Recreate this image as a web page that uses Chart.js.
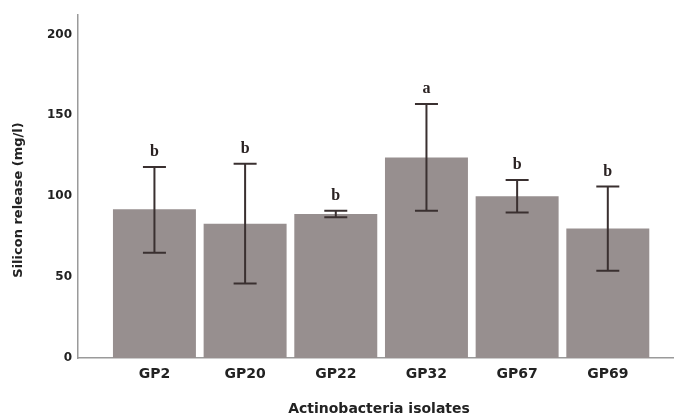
<!DOCTYPE html>
<html>
<head>
<meta charset="utf-8">
<script src="https://cdn.jsdelivr.net/npm/chart.js@4/dist/chart.umd.min.js"></script>
<style>
html,body{margin:0;padding:0;background:#fff}
#wrap{width:674px;height:416px}
</style>
</head>
<body>
<div id="wrap"><canvas id="siChart" width="674" height="416"></canvas></div>
<script>

// isolates and mean silicon release (mg/l)
const isolates=["GP2","GP20","GP22","GP32","GP67","GP69"]
const meanRelease=[92,83,89,124,100,80]
const errHigh=[118,120,91,157,110,106]
const errLow=[65,46,87,91,90,54]
const groupLetters=["b","b","b","a","b","b"]
const yTicks=[0,50,100,150,200]
const yTitle="Silicon release (mg/l)"
const xTitle="Actinobacteria isolates"

// error bars, significance letters and the axis titles
const errorBars={
id:"errorBars",
afterDatasetsDraw(chart){
const ctx=chart.ctx
const xs=chart.scales.x
const ys=chart.scales.y
ctx.save()
ctx.strokeStyle="#3a3030"
ctx.lineWidth=2
ctx.fillStyle="#2a2222"
ctx.font="bold 16px 'Liberation Serif'"
ctx.textAlign="center"
ctx.textBaseline="alphabetic"
isolates.forEach((name,i)=>{
const x=xs.getPixelForValue(i)
const yh=ys.getPixelForValue(errHigh[i])
const yl=ys.getPixelForValue(errLow[i])
ctx.beginPath()
ctx.moveTo(x,yh)
ctx.lineTo(x,yl)
ctx.moveTo(x-11.5,yh)
ctx.lineTo(x+11.5,yh)
ctx.moveTo(x-11.5,yl)
ctx.lineTo(x+11.5,yl)
ctx.stroke()
ctx.fillText(groupLetters[i],x,yh-11)
})
ctx.restore()

ctx.save()
ctx.fillStyle="#222"
ctx.textAlign="center"
ctx.textBaseline="middle"
ctx.font="bold 14px 'DejaVu Sans'"
ctx.fillText(xTitle,(chart.chartArea.left+chart.chartArea.right)/2+3,409)
ctx.translate(19,200)
ctx.rotate(-Math.PI/2)
ctx.font="bold 13px 'DejaVu Sans'"
ctx.fillText(yTitle,0,0)
ctx.restore()
}
}

const points=isolates.map((n,i)=>({x:i,y:meanRelease[i]}))

new Chart(document.getElementById("siChart"),{
type:"bar",
data:{
datasets:[{
data:points,
backgroundColor:"#978f8f",
borderWidth:0,
barPercentage:0.915,
categoryPercentage:1
}]
},
options:{
responsive:false,
animation:false,
layout:{padding:{top:15,right:0,left:0,bottom:0}},
plugins:{legend:{display:false},tooltip:{enabled:false}},
scales:{
x:{
type:"linear",
offset:false,
min:-0.843,
max:5.73,
grid:{display:false,drawTicks:false},
border:{color:"#9a9a9a",width:1.5},
afterBuildTicks(s){s.ticks=isolates.map((n,i)=>({value:i}))},
afterFit(s){s.height=58},
ticks:{
padding:8,
color:"#222",
font:{family:"DejaVu Sans",size:14,weight:"bold"},
callback:(v)=>isolates[v]
}
},
y:{
min:0,
max:212,
grid:{display:false,drawTicks:false},
border:{color:"#9a9a9a",width:1.5},
afterBuildTicks(s){s.ticks=yTicks.map(v=>({value:v}))},
afterFit(s){s.width=78},
ticks:{
padding:6,
color:"#222",
font:{family:"DejaVu Sans",size:12,weight:"bold"}
}
}
}
},
plugins:[errorBars]
})

</script>
</body>
</html>
